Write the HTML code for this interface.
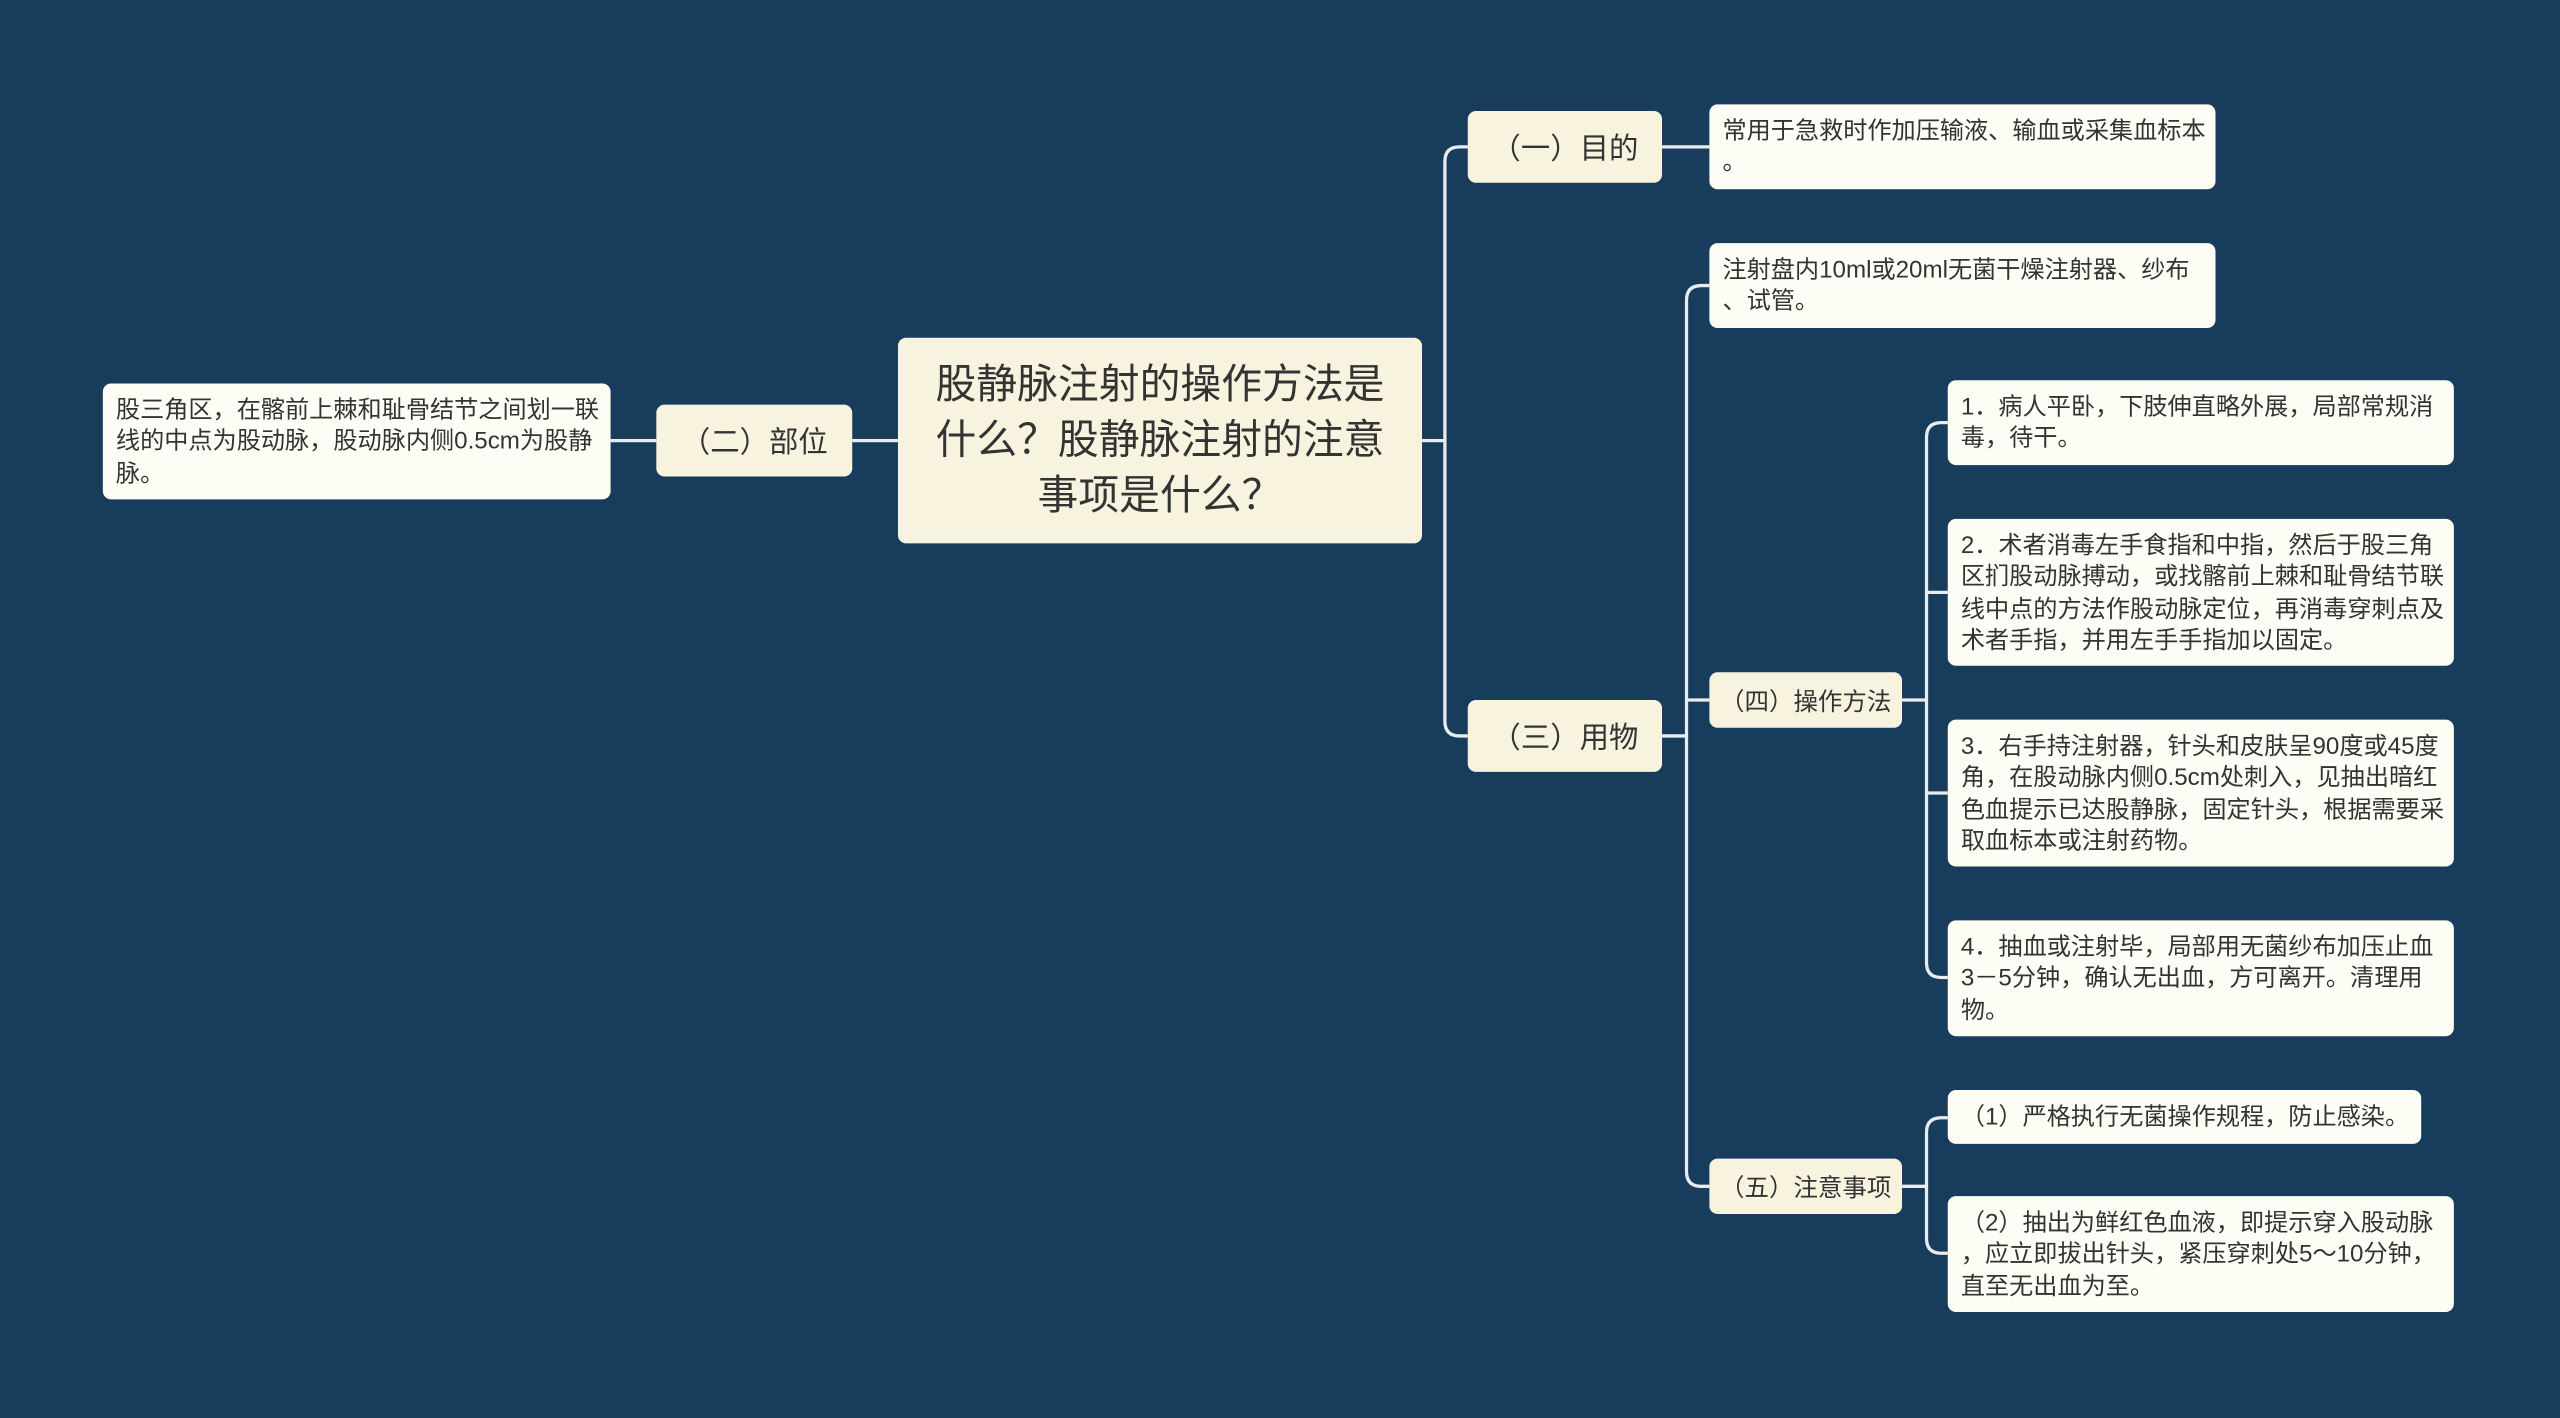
<!DOCTYPE html>
<html><head><meta charset="utf-8"><style>
html,body{margin:0;padding:0;background:#173c5c;}
body{width:2560px;height:1418px;overflow:hidden;position:relative;}
#w{position:absolute;left:0;top:0;width:1568px;height:869px;transform:scale(1.63265,1.6318);transform-origin:0 0;}
.n{position:absolute;box-sizing:border-box;background:#fbf7e4;border-radius:5px;color:#333;font-family:"Liberation Sans","Noto Sans CJK SC",sans-serif;}
.c{background:#f8f3de;display:flex;align-items:center;justify-content:center;text-align:center;}
.l{background:#fdfcf5;font-size:14.8px;line-height:19.3px;padding:8px 4px 0 8px;white-space:nowrap;}
svg{position:absolute;left:0;top:0;}
</style></head><body><div id="w">
<svg width="1568" height="869" fill="none" stroke="#e9ecef" stroke-width="2">
<path d="M871 270H885"/>
<path d="M899 90H894Q885 90 885 99V442Q885 451 894 451H899"/>
<path d="M550 270H522"/>
<path d="M402 270H374"/>
<path d="M1018 90H1047"/>
<path d="M1018 451H1033"/>
<path d="M1047 175H1042Q1033 175 1033 184V718Q1033 727 1042 727H1047"/>
<path d="M1033 429H1047"/>
<path d="M1165 429H1180"/>
<path d="M1193 259H1189Q1180 259 1180 268V590Q1180 599 1189 599H1193"/>
<path d="M1180 363H1193M1180 486H1193"/>
<path d="M1165 727H1180"/>
<path d="M1193 685H1189Q1180 685 1180 694V759Q1180 768 1189 768H1193"/>
</svg>
<div class="n c" style="left:550px;top:207px;width:321px;height:126px;font-size:25px;line-height:34px;padding:0 18px;">股静脉注射的操作方法是什么？股静脉注射的注意事项是什么？</div>
<div class="n c" style="left:402px;top:248px;width:120px;height:44px;font-size:18px;">（二）部位</div>
<div class="n l" style="left:63px;top:235px;width:311px;height:71px;">股三角区，在髂前上棘和耻骨结节之间划一联<br>线的中点为股动脉，股动脉内侧0.5cm为股静<br>脉。</div>
<div class="n c" style="left:899px;top:68px;width:119px;height:44px;font-size:18px;">（一）目的</div>
<div class="n l" style="left:1047px;top:64px;width:310px;height:52px;">常用于急救时作加压输液、输血或采集血标本<br>。</div>
<div class="n c" style="left:899px;top:429px;width:119px;height:44px;font-size:18px;">（三）用物</div>
<div class="n l" style="left:1047px;top:149px;width:310px;height:52px;">注射盘内10ml或20ml无菌干燥注射器、纱布<br>、试管。</div>
<div class="n c" style="left:1047px;top:412px;width:118px;height:34px;font-size:15px;">（四）操作方法</div>
<div class="n c" style="left:1047px;top:710px;width:118px;height:34px;font-size:15px;">（五）注意事项</div>
<div class="n l" style="left:1193px;top:233px;width:310px;height:52px;">1．病人平卧，下肢伸直略外展，局部常规消<br>毒，待干。</div>
<div class="n l" style="left:1193px;top:318px;width:310px;height:90px;">2．术者消毒左手食指和中指，然后于股三角<br>区扪股动脉搏动，或找髂前上棘和耻骨结节联<br>线中点的方法作股动脉定位，再消毒穿刺点及<br>术者手指，并用左手手指加以固定。</div>
<div class="n l" style="left:1193px;top:441px;width:310px;height:90px;">3．右手持注射器，针头和皮肤呈90度或45度<br>角，在股动脉内侧0.5cm处刺入，见抽出暗红<br>色血提示已达股静脉，固定针头，根据需要采<br>取血标本或注射药物。</div>
<div class="n l" style="left:1193px;top:564px;width:310px;height:71px;">4．抽血或注射毕，局部用无菌纱布加压止血<br>3－5分钟，确认无出血，方可离开。清理用<br>物。</div>
<div class="n l" style="left:1193px;top:668px;width:290px;height:33px;">（1）严格执行无菌操作规程，防止感染。</div>
<div class="n l" style="left:1193px;top:733px;width:310px;height:71px;">（2）抽出为鲜红色血液，即提示穿入股动脉<br>，应立即拔出针头，紧压穿刺处5～10分钟，<br>直至无出血为至。</div>
</div></body></html>
